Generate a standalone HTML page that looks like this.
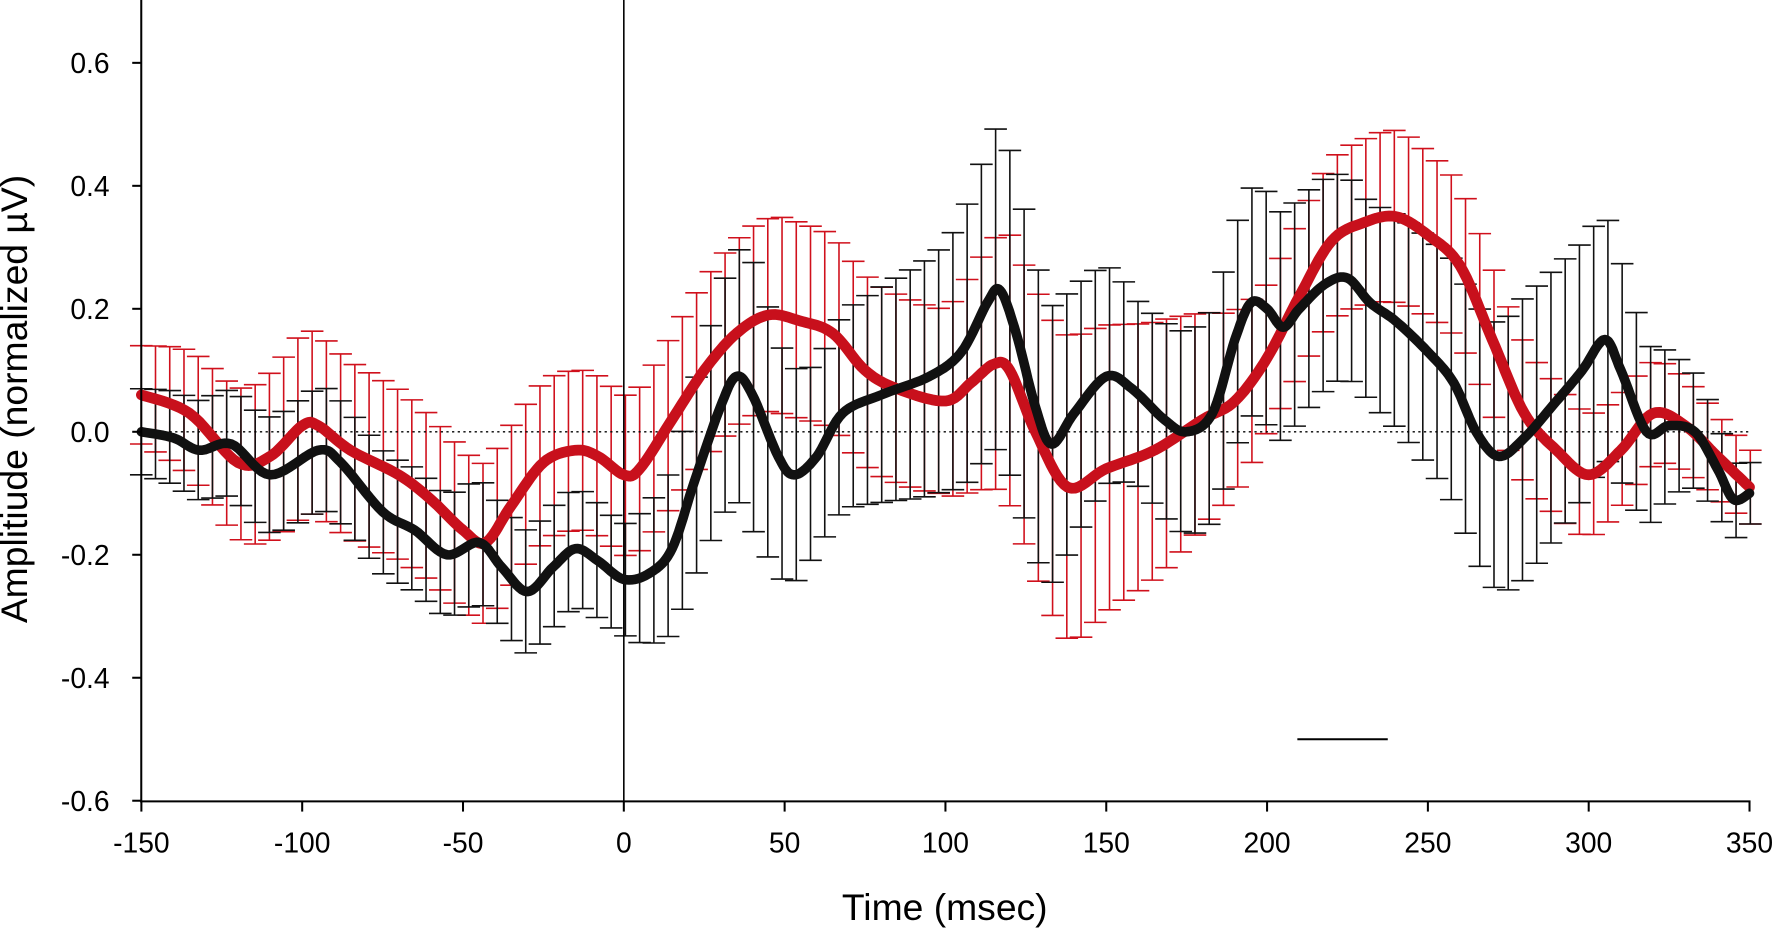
<!DOCTYPE html>
<html><head><meta charset="utf-8"><style>
html,body{margin:0;padding:0;background:#fff;}
svg{display:block;font-family:"Liberation Sans",Arial,sans-serif;}
</style></head><body>
<svg id="s" width="1772" height="928" viewBox="0 0 1568 821" preserveAspectRatio="none" xmlns="http://www.w3.org/2000/svg"></svg>
<script>
const X=ms=>552+ms*2.846, Y=v=>382-v*544;
const red=[[-150,0.06],[-135,0.03],[-120,-0.05],[-110,-0.04],[-100,0.01],[-95,0.01],[-85,-0.03],[-70,-0.07],[-60,-0.11],[-50,-0.16],[-43,-0.18],[-35,-0.12],[-25,-0.05],[-15,-0.03],[-8,-0.04],[0,-0.07],[5,-0.06],[15,0.02],[25,0.1],[35,0.16],[45,0.19],[55,0.18],[65,0.16],[75,0.1],[85,0.07],[100,0.05],[108,0.08],[115,0.11],[120,0.1],[128,0.0],[138,-0.09],[150,-0.06],[165,-0.03],[180,0.02],[190,0.05],[200,0.12],[210,0.22],[220,0.31],[230,0.34],[240,0.35],[250,0.32],[260,0.27],[270,0.15],[280,0.03],[290,-0.03],[300,-0.07],[310,-0.03],[320,0.03],[330,0.01],[340,-0.04],[350,-0.09]];
const blk=[[-150,0.0],[-140,-0.01],[-132,-0.03],[-122,-0.02],[-110,-0.07],[-95,-0.03],[-88,-0.05],[-75,-0.13],[-65,-0.16],[-55,-0.2],[-45,-0.18],[-38,-0.22],[-30,-0.26],[-22,-0.22],[-15,-0.19],[-8,-0.21],[0,-0.24],[8,-0.23],[15,-0.19],[22,-0.08],[30,0.04],[35,0.09],[40,0.06],[48,-0.04],[53,-0.07],[60,-0.04],[68,0.03],[80,0.06],[95,0.09],[105,0.13],[113,0.21],[117,0.23],[122,0.16],[128,0.04],[133,-0.02],[140,0.03],[150,0.09],[158,0.07],[168,0.02],[175,0.0],[183,0.03],[190,0.15],[195,0.21],[200,0.2],[205,0.17],[210,0.2],[218,0.24],[225,0.25],[232,0.21],[240,0.18],[250,0.13],[258,0.08],[265,0.0],[272,-0.04],[280,-0.01],[290,0.05],[298,0.1],[305,0.15],[310,0.1],[318,0.0],[325,0.01],[333,0.0],[340,-0.06],[345,-0.11],[350,-0.1]];
const rse=[[-150,0.08],[-100,0.15],[-50,0.13],[0,0.13],[50,0.16],[100,0.15],[120,0.22],[140,0.25],[170,0.2],[200,0.12],[240,0.14],[270,0.12],[300,0.1],[350,0.06]];
const bse=[[-150,0.07],[-100,0.1],[-50,0.1],[-25,0.1],[0,0.09],[20,0.15],[40,0.22],[60,0.15],[100,0.2],[118,0.27],[135,0.22],[160,0.15],[200,0.19],[230,0.16],[260,0.2],[280,0.23],[305,0.2],[330,0.1],[350,0.05]];
function lin(a,t){for(let i=0;i<a.length-1;i++){if(t<=a[i+1][0]){const f=(t-a[i][0])/(a[i+1][0]-a[i][0]);return a[i][1]+f*(a[i+1][1]-a[i][1]);}}return a[a.length-1][1];}
function cr(a){
 const out=[];const P=a.map(p=>[X(p[0]),Y(p[1])]);
 for(let i=0;i<P.length-1;i++){const p0=P[Math.max(0,i-1)],p1=P[i],p2=P[i+1],p3=P[Math.min(P.length-1,i+2)];
  for(let k=0;k<10;k++){const t=k/10,t2=t*t,t3=t2*t;
   out.push([0.5*(2*p1[0]+(-p0[0]+p2[0])*t+(2*p0[0]-5*p1[0]+4*p2[0]-p3[0])*t2+(-p0[0]+3*p1[0]-3*p2[0]+p3[0])*t3),
             0.5*(2*p1[1]+(-p0[1]+p2[1])*t+(2*p0[1]-5*p1[1]+4*p2[1]-p3[1])*t2+(-p0[1]+3*p1[1]-3*p2[1]+p3[1])*t3)]);}}
 out.push(P[P.length-1]);return out;}
function yAt(pts,x){for(let i=0;i<pts.length-1;i++){if(x<=pts[i+1][0]){const f=(x-pts[i][0])/((pts[i+1][0]-pts[i][0])||1);return pts[i][1]+f*(pts[i+1][1]-pts[i][1]);}}return pts[pts.length-1][1];}
const rp=cr(red),bp=cr(blk);
let h='';
function bars(pts,se,col){let s='';for(let x=125;x<=1549;x+=12.6){const ms=(x-552)/2.846;const y=yAt(pts,x);const d=lin(se,ms)*544;
 s+=`<line x1="${x}" y1="${y-d}" x2="${x}" y2="${y+d}"/><line x1="${x-10}" y1="${y-d}" x2="${x+10}" y2="${y-d}"/><line x1="${x-10}" y1="${y+d}" x2="${x+10}" y2="${y+d}"/>`;}
 return `<g stroke="${col}" stroke-width="1.4">${s}</g>`;}
h+=bars(rp,rse,'#d0101c');h+=bars(bp,bse,'#111');
h+=`<line x1="125" y1="382" x2="1548" y2="382" stroke="#000" stroke-width="1.2" stroke-dasharray="2,3"/>`;
h+=`<line x1="552" y1="0" x2="552" y2="709" stroke="#000" stroke-width="1.4"/>`;
const pl=p=>p.map(q=>q[0].toFixed(1)+','+q[1].toFixed(1)).join(' ');
h+=`<polyline points="${pl(rp)}" fill="none" stroke="#c8101c" stroke-width="9.5" stroke-linejoin="round" stroke-linecap="round"/>`;
h+=`<polyline points="${pl(bp)}" fill="none" stroke="#111" stroke-width="8.5" stroke-linejoin="round" stroke-linecap="round"/>`;
h+=`<line x1="1148" y1="654" x2="1228" y2="654" stroke="#000" stroke-width="1.8"/>`;
h+=`<g stroke="#000" stroke-width="1.8"><line x1="125" y1="0" x2="125" y2="710"/><line x1="124" y1="709" x2="1549" y2="709"/>`;
const yt=[0.6,0.4,0.2,0,-0.2,-0.4,-0.6];
yt.forEach(v=>h+=`<line x1="117" y1="${Y(v)}" x2="125" y2="${Y(v)}"/>`);
for(let m=-150;m<=350;m+=50)h+=`<line x1="${X(m)}" y1="709" x2="${X(m)}" y2="718"/>`;
h+='</g><g font-size="25" fill="#000">';
yt.forEach(v=>h+=`<text x="97" y="${Y(v)+9}" text-anchor="end">${v===0?'0.0':v.toFixed(1)}</text>`);
for(let m=-150;m<=350;m+=50)h+=`<text x="${X(m)}" y="754" text-anchor="middle">${m}</text>`;
h+='</g>';
h+=`<text x="836" y="814" font-size="33" text-anchor="middle">Time (msec)</text>`;
h+=`<text transform="translate(24,353) rotate(-90)" font-size="33" text-anchor="middle">Amplitiude (normalized µV)</text>`;
document.getElementById('s').innerHTML=h;
</script>
</body></html>
